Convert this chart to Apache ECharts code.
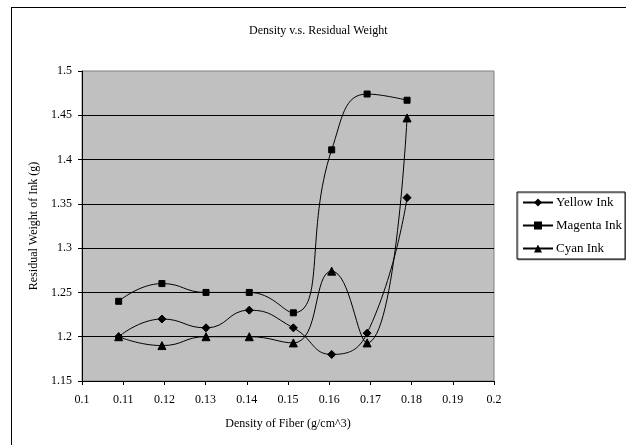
<!DOCTYPE html>
<html>
<head>
<meta charset="utf-8">
<script src="https://cdn.jsdelivr.net/npm/echarts@6/dist/echarts.min.js"></script>
<style>
  html, body { margin: 0; padding: 0; background: #fff; }
  #chart { width: 626px; height: 445px; position: relative; }
  #frame { position: absolute; left: 11px; top: 7px; right: 0; bottom: 0; border-left: 1px solid #000; border-top: 1px solid #000; pointer-events: none; }
</style>
</head>
<body>
<div id="chart"></div>
<script>
// Fiber density (g/cm^3) for each sample
const density = [0.1089, 0.1194, 0.1301, 0.1406, 0.1513, 0.1606, 0.1692, 0.1789];

// Residual ink weight (g) per ink colour
const yellowInk  = [1.20, 1.22, 1.21, 1.23, 1.21, 1.18, 1.204, 1.357];
const magentaInk = [1.24, 1.26, 1.25, 1.25, 1.227, 1.411, 1.474, 1.467];
const cyanInk    = [1.20, 1.19, 1.20, 1.20, 1.193, 1.274, 1.193, 1.447];

const seriesNames = ['Yellow Ink', 'Magenta Ink', 'Cyan Ink'];
const seriesValues = [yellowInk, magentaInk, cyanInk];
const seriesSymbols = ['diamond', 'rect', 'triangle'];
const seriesSymbolSizes = [8, 6, 8];

const FONT = '"Liberation Serif", "Times New Roman", serif';

function pairs(xs, ys) {
  return xs.map((x, i) => [x, ys[i]]);
}

function trimNum(v) {
  return String(parseFloat(v.toFixed(2)));
}

const chart = echarts.init(document.getElementById('chart'), null, { renderer: 'canvas' });

chart.setOption({
  backgroundColor: '#fff',
  animation: false,
  textStyle: { fontFamily: FONT, color: '#000' },
  title: {
    text: 'Density v.s. Residual Weight',
    left: 244,
    top: 20,
    textStyle: { fontFamily: FONT, fontSize: 12, fontWeight: 'normal', color: '#000' }
  },
  grid: {
    left: 82,
    right: 132,
    top: 71,
    bottom: 64,
    show: true,
    backgroundColor: '#c0c0c0',
    borderColor: '#808080',
    borderWidth: 1
  },
  legend: {
    orient: 'vertical',
    left: 517,
    top: 192,
    padding: [4, 3, 4, 5],
    itemWidth: 30,
    itemHeight: 10,
    itemGap: 10,
    backgroundColor: '#fff',
    borderColor: '#000',
    borderWidth: 1,
    shadowColor: 'rgba(0,0,0,0.35)',
    shadowOffsetX: 1,
    shadowOffsetY: 1,
    textStyle: { fontFamily: FONT, fontSize: 13, color: '#000', padding: [0, 0, 0, -2] },
    data: seriesNames
  },
  xAxis: {
    type: 'value',
    min: 0.1,
    max: 0.2,
    interval: 0.01,
    name: 'Density of Fiber (g/cm^3)',
    nameLocation: 'middle',
    nameGap: 37,
    nameTextStyle: { fontFamily: FONT, fontSize: 12, color: '#000' },
    axisLine: { show: true, onZero: false, lineStyle: { color: '#000', width: 1 } },
    axisTick: { show: true, inside: false, length: 4, lineStyle: { color: '#000' } },
    axisLabel: { fontFamily: FONT, fontSize: 12, color: '#000', margin: 13, formatter: trimNum },
    splitLine: { show: false }
  },
  yAxis: {
    type: 'value',
    min: 1.15,
    max: 1.5,
    interval: 0.05,
    name: 'Residual Weight of Ink (g)',
    nameLocation: 'middle',
    nameGap: 42,
    nameTextStyle: { fontFamily: FONT, fontSize: 12, color: '#000' },
    axisLine: { show: true, onZero: false, lineStyle: { color: '#000', width: 1 } },
    axisTick: { show: true, inside: false, length: 4, lineStyle: { color: '#000' } },
    axisLabel: { fontFamily: FONT, fontSize: 12, color: '#000', margin: 10, formatter: trimNum },
    splitLine: { show: true, showMinLine: false, showMaxLine: false, lineStyle: { color: '#000', width: 1 } }
  },
  series: seriesNames.map((name, i) => ({
    name: name,
    type: 'line',
    data: pairs(density, seriesValues[i]),
    smooth: 0.5,
    symbol: seriesSymbols[i],
    symbolSize: seriesSymbolSizes[i],
    showAllSymbol: true,
    itemStyle: { color: '#000', borderColor: '#000' },
    lineStyle: { color: '#000', width: 1 }
  }))
});
</script>
<div id="frame"></div>
</body>
</html>
